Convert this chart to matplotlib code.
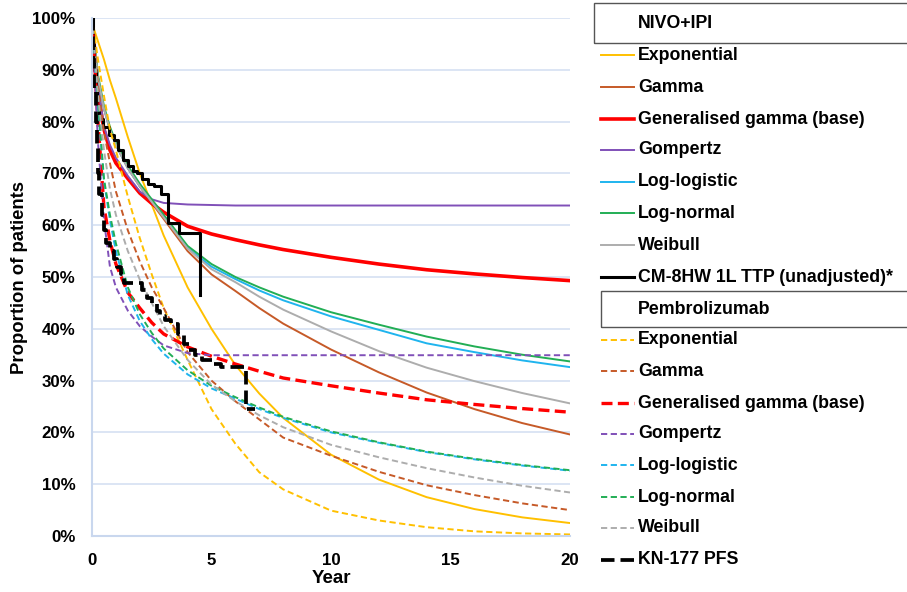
import matplotlib.pyplot as plt
from matplotlib.lines import Line2D
from matplotlib.patches import Rectangle
from matplotlib.ticker import PercentFormatter

plt.rcParams["font.family"] = ["Liberation Sans", "DejaVu Sans"]
plt.rcParams["font.weight"] = "bold"

# time grid (years) for the fitted curves
years = [0, 0.25, 0.5, 0.75, 1, 1.5, 2, 2.5, 3, 4, 5, 6, 7, 8, 10, 12, 14, 16, 18, 20]

# NIVO+IPI fitted curves
nivo_exponential = [0.99, 0.955, 0.92, 0.88, 0.845, 0.77, 0.70, 0.64, 0.58, 0.48, 0.40, 0.33, 0.275, 0.228, 0.157, 0.109, 0.075, 0.052, 0.036, 0.025]
nivo_gamma = [1.00, 0.885, 0.825, 0.785, 0.755, 0.71, 0.675, 0.643, 0.612, 0.55, 0.505, 0.473, 0.44, 0.41, 0.36, 0.316, 0.277, 0.245, 0.218, 0.196]
nivo_gengamma = [1.00, 0.855, 0.785, 0.745, 0.72, 0.69, 0.662, 0.642, 0.625, 0.598, 0.583, 0.572, 0.562, 0.553, 0.538, 0.525, 0.514, 0.506, 0.499, 0.493]
nivo_gompertz = [1.00, 0.87, 0.79, 0.755, 0.73, 0.695, 0.665, 0.65, 0.643, 0.64, 0.639, 0.638, 0.638, 0.638, 0.638, 0.638, 0.638, 0.638, 0.638, 0.638]
nivo_loglogistic = [1.00, 0.885, 0.825, 0.785, 0.755, 0.71, 0.675, 0.645, 0.618, 0.556, 0.52, 0.496, 0.474, 0.455, 0.424, 0.398, 0.372, 0.355, 0.339, 0.326]
nivo_lognormal = [1.00, 0.89, 0.83, 0.79, 0.76, 0.715, 0.68, 0.65, 0.62, 0.56, 0.525, 0.50, 0.48, 0.462, 0.432, 0.408, 0.385, 0.366, 0.35, 0.337]
nivo_weibull = [1.00, 0.885, 0.825, 0.785, 0.755, 0.71, 0.675, 0.645, 0.615, 0.555, 0.515, 0.49, 0.462, 0.437, 0.395, 0.357, 0.325, 0.299, 0.276, 0.256]

# Pembrolizumab fitted curves
pem_exponential = [1.00, 0.92, 0.85, 0.785, 0.745, 0.655, 0.575, 0.505, 0.44, 0.34, 0.245, 0.178, 0.123, 0.09, 0.049, 0.03, 0.017, 0.009, 0.005, 0.003]
pem_gamma = [1.00, 0.87, 0.78, 0.72, 0.665, 0.59, 0.53, 0.48, 0.44, 0.355, 0.30, 0.26, 0.225, 0.19, 0.155, 0.124, 0.098, 0.079, 0.063, 0.05]
pem_gengamma = [1.00, 0.80, 0.635, 0.57, 0.525, 0.47, 0.44, 0.412, 0.39, 0.365, 0.347, 0.332, 0.318, 0.305, 0.29, 0.276, 0.263, 0.254, 0.246, 0.239]
pem_gompertz = [1.00, 0.76, 0.61, 0.52, 0.48, 0.435, 0.405, 0.385, 0.368, 0.353, 0.349, 0.349, 0.349, 0.349, 0.349, 0.349, 0.349, 0.349, 0.349, 0.349]
pem_loglogistic = [1.00, 0.83, 0.685, 0.61, 0.55, 0.465, 0.415, 0.38, 0.352, 0.312, 0.285, 0.265, 0.245, 0.228, 0.20, 0.18, 0.162, 0.148, 0.136, 0.126]
pem_lognormal = [1.00, 0.84, 0.69, 0.62, 0.565, 0.48, 0.428, 0.392, 0.362, 0.32, 0.29, 0.268, 0.248, 0.23, 0.202, 0.181, 0.163, 0.149, 0.137, 0.127]
pem_weibull = [1.00, 0.85, 0.745, 0.67, 0.62, 0.55, 0.495, 0.45, 0.405, 0.34, 0.292, 0.26, 0.233, 0.21, 0.176, 0.152, 0.131, 0.113, 0.097, 0.084]

# Kaplan-Meier step data
km_nivo_t = [0, 0.05, 0.1, 0.15, 0.2, 0.3, 0.45, 0.7, 0.9, 1.1, 1.3, 1.5, 1.7, 1.9, 2.1, 2.35, 2.6, 2.9, 3.2, 3.65, 4.5]
km_nivo_s = [1.0, 0.95, 0.90, 0.86, 0.83, 0.805, 0.79, 0.775, 0.765, 0.745, 0.725, 0.715, 0.705, 0.70, 0.69, 0.68, 0.675, 0.66, 0.605, 0.585, 0.465]
km_pem_t = [0, 0.05, 0.1, 0.15, 0.2, 0.25, 0.3, 0.4, 0.5, 0.6, 0.75, 0.9, 1.05, 1.2, 1.35, 2.1, 2.3, 2.5, 2.7, 2.85, 3.05, 3.3, 3.6, 3.85, 4.05, 4.3, 4.6, 5.0, 5.4, 6.45, 6.8]
km_pem_s = [1.0, 0.92, 0.86, 0.80, 0.75, 0.70, 0.66, 0.62, 0.59, 0.565, 0.55, 0.535, 0.52, 0.505, 0.488, 0.475, 0.46, 0.45, 0.435, 0.425, 0.417, 0.41, 0.39, 0.37, 0.36, 0.35, 0.34, 0.333, 0.327, 0.245, 0.245]

series_names = ["Exponential", "Gamma", "Generalised gamma (base)", "Gompertz",
                "Log-logistic", "Log-normal", "Weibull"]
colors = ["#FFC000", "#C65A28", "#FF0000", "#8050B8", "#1FB4EE", "#22AE55", "#ADADAD"]
nivo_curves = [nivo_exponential, nivo_gamma, nivo_gengamma, nivo_gompertz,
               nivo_loglogistic, nivo_lognormal, nivo_weibull]
pem_curves = [pem_exponential, pem_gamma, pem_gengamma, pem_gompertz,
              pem_loglogistic, pem_lognormal, pem_weibull]

W, H = 907, 592
fig = plt.figure(figsize=(W / 100, H / 100), dpi=100)
ax = fig.add_axes([92 / W, 1 - 536 / H, (570 - 92) / W, (536 - 18) / H])

grid_col = "#D6E0F2"
legend_fs = 12.8


def nivo_style(name):
    if "Generalised" in name:
        return dict(lw=2.6, ls="-")
    return dict(lw=1.4, ls="-")


def pem_style(name):
    if "Generalised" in name:
        return dict(lw=2.4, ls=(0, (3.3, 1.6)))
    return dict(lw=1.4, ls=(0, (3.2, 1.8)))


for name, col, ys in zip(series_names, colors, nivo_curves):
    ax.plot(years, ys, color=col, **nivo_style(name))
ax.step(km_nivo_t, km_nivo_s, where="post", color="black", lw=2.2)

for name, col, ys in zip(series_names, colors, pem_curves):
    ax.plot(years, ys, color=col, **pem_style(name))
ax.step(km_pem_t, km_pem_s, where="post", color="black", lw=2.7, ls=(0, (3.6, 1.6)))

ax.set_xlim(0, 20)
ax.set_ylim(0, 1)
ax.set_xticks([0, 5, 10, 15, 20])
ax.set_yticks([i / 10 for i in range(11)])
ax.yaxis.set_major_formatter(PercentFormatter(1.0, decimals=0))
ax.tick_params(length=0, labelsize=12.2, pad=12)
for lab in ax.get_xticklabels() + ax.get_yticklabels():
    lab.set_fontweight("bold")
ax.grid(axis="y", color=grid_col, lw=1.2)
ax.set_axisbelow(True)
for side in ["top", "right"]:
    ax.spines[side].set_visible(False)
for side in ["left", "bottom"]:
    ax.spines[side].set_color("#C9D7EE")
    ax.spines[side].set_linewidth(1.5)
ax.set_xlabel("Year", fontsize=13.5, fontweight="bold", labelpad=2)
ax.set_ylabel("Proportion of patients", fontsize=13.3, fontweight="bold", labelpad=3)


# manual legend on the right, laid out in pixels
def fx(px):
    return px / W


def fy(py):
    return 1 - py / H


fig.add_artist(Rectangle((fx(594), fy(43)), fx(330), 40 / H, transform=fig.transFigure,
                         fill=False, edgecolor="#555555", lw=1.0, clip_on=False))
fig.text(fx(638), fy(23), "NIVO+IPI", fontsize=legend_fs, fontweight="bold", va="center")
fig.add_artist(Rectangle((fx(601), fy(327)), fx(330), 36 / H, transform=fig.transFigure,
                         fill=False, edgecolor="#555555", lw=1.0, clip_on=False))
fig.text(fx(638), fy(309), "Pembrolizumab", fontsize=legend_fs, fontweight="bold", va="center")

nivo_rows = [55, 87, 119, 150, 182, 213, 245]
pem_rows = [340, 371, 403, 434, 465, 497, 528]

for name, col, row in zip(series_names, colors, nivo_rows):
    st = nivo_style(name)
    fig.add_artist(Line2D([fx(601), fx(634)], [fy(row), fy(row)], color=col, lw=st["lw"]))
    fig.text(fx(638), fy(row), name, fontsize=legend_fs, fontweight="bold", va="center")
fig.add_artist(Line2D([fx(601), fx(634)], [fy(277), fy(277)], color="black", lw=2.2))
fig.text(fx(638), fy(277), "CM-8HW 1L TTP (unadjusted)*", fontsize=legend_fs,
         fontweight="bold", va="center")

for name, col, row in zip(series_names, colors, pem_rows):
    st = pem_style(name)
    fig.add_artist(Line2D([fx(601), fx(634)], [fy(row), fy(row)], color=col,
                          lw=st["lw"], ls=st["ls"]))
    fig.text(fx(638), fy(row), name, fontsize=legend_fs, fontweight="bold", va="center")
fig.add_artist(Line2D([fx(601), fx(634)], [fy(560), fy(560)], color="black",
                      lw=2.7, ls=(0, (3.6, 1.6))))
fig.text(fx(638), fy(560), "KN-177 PFS", fontsize=legend_fs, fontweight="bold", va="center")

fig.savefig("out.png", dpi=100)
